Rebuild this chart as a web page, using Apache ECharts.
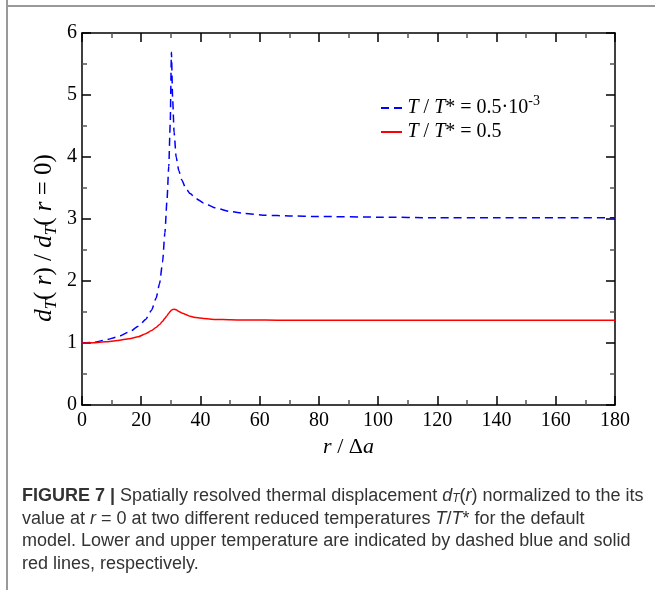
<!DOCTYPE html>
<html>
<head>
<meta charset="utf-8">
<script src="https://cdn.jsdelivr.net/npm/echarts@6/dist/echarts.min.js"></script>
<style>
html, body { margin: 0; padding: 0; background: #fff; }
#chart { width: 655px; height: 590px; }
</style>
</head>
<body>
<div id="chart"></div>
<script>
// r / delta a
var rValues = [0, 4, 8, 12, 16, 19, 21.5, 23.5, 25, 26.2, 27.2, 28, 28.7, 29.3, 29.8, 30.2, 30.6, 31.1, 31.8, 32.7, 33.7, 35, 36.5, 38.5, 41, 45, 50, 55, 62, 70, 80, 100, 120, 140, 160, 180];
// T/T* = 0.5e-3 (dashed blue)
var lowT = [1.00, 1.01, 1.05, 1.10, 1.18, 1.27, 1.38, 1.53, 1.72, 1.96, 2.30, 2.78, 3.30, 3.85, 4.55, 5.69, 4.95, 4.40, 4.00, 3.78, 3.63, 3.50, 3.41, 3.33, 3.26, 3.18, 3.12, 3.09, 3.06, 3.05, 3.04, 3.03, 3.02, 3.02, 3.02, 3.02];
// T/T* = 0.5 (solid red)
var highT = [1.00, 1.005, 1.02, 1.04, 1.07, 1.10, 1.15, 1.20, 1.25, 1.30, 1.35, 1.40, 1.44, 1.48, 1.51, 1.53, 1.54, 1.545, 1.535, 1.51, 1.485, 1.46, 1.43, 1.41, 1.395, 1.38, 1.375, 1.37, 1.37, 1.365, 1.365, 1.365, 1.365, 1.365, 1.365, 1.365];
var xTicks = [0, 20, 40, 60, 80, 100, 120, 140, 160, 180];
var yTicks = [0, 1, 2, 3, 4, 5, 6];

function pairs(xs, ys) {
    var out = [];
    for (var i = 0; i < xs.length; i++) out.push([xs[i], ys[i]]);
    return out;
}

var serif = 'Liberation Serif';
var sans = 'Liberation Sans';
var tickStyle = { show: true, inside: true, length: 9, lineStyle: { color: '#000', width: 1.5 } };
var minorStyle = { show: true, splitNumber: 2, length: 5, lineStyle: { color: '#555', width: 1.5 } };

var myChart = echarts.init(document.getElementById('chart'));
var option = {
    animation: false,
    backgroundColor: '#fff',
    grid: { left: 82, right: 40, top: 33, bottom: 185 },
    legend: {
        left: 376, top: 89, orient: 'vertical', itemGap: 4,
        itemWidth: 22, itemHeight: 2,
        textStyle: {
            fontFamily: serif, fontSize: 20, color: '#000',
            rich: {
                i: { fontFamily: serif, fontSize: 20, fontStyle: 'italic' },
                n: { fontFamily: serif, fontSize: 20 },
                sup: { fontFamily: serif, fontSize: 14, verticalAlign: 'bottom', padding: [0, 0, 14, 0] }
            }
        },
        formatter: function (name) {
            if (name === 'low') return '{i|T} {n|/} {i|T}{n|* = 0.5·10}{sup|-3}';
            return '{i|T} {n|/} {i|T}{n|* = 0.5}';
        },
        data: [
            { name: 'low', icon: 'path://M0,0h8v2h-8z M13,0h8v2h-8z', itemStyle: { color: '#0000ff' } },
            { name: 'high', icon: 'path://M0,0h21v2h-21z', itemStyle: { color: '#ff0000' } }
        ]
    },
    xAxis: [{
        type: 'value', min: 0, max: 180, interval: 20, position: 'bottom',
        axisLine: { show: true, onZero: false, lineStyle: { color: '#000', width: 1.5 } },
        axisTick: tickStyle, minorTick: minorStyle, splitLine: { show: false },
        axisLabel: { fontFamily: serif, fontSize: 20, color: '#000', margin: 6,
            formatter: function (v) { return xTicks.indexOf(v) >= 0 ? v : ''; } },
        name: '{i|r} / Δ{i|a}', nameLocation: 'middle', nameGap: 28,
        nameTextStyle: { fontFamily: serif, fontSize: 22, color: '#000',
            rich: { i: { fontFamily: serif, fontSize: 22, fontStyle: 'italic' } } }
    }, {
        type: 'value', min: 0, max: 180, interval: 20, position: 'top',
        axisLine: { show: true, onZero: false, lineStyle: { color: '#000', width: 1.5 } },
        axisTick: tickStyle, minorTick: minorStyle, splitLine: { show: false },
        axisLabel: { show: false }
    }],
    yAxis: [{
        type: 'value', min: 0, max: 6, interval: 1, position: 'left',
        axisLine: { show: true, onZero: false, lineStyle: { color: '#000', width: 1.5 } },
        axisTick: tickStyle, minorTick: minorStyle, splitLine: { show: false },
        axisLabel: { fontFamily: serif, fontSize: 20, color: '#000', margin: 5,
            formatter: function (v) { return yTicks.indexOf(v) >= 0 ? v : ''; } }
    }, {
        type: 'value', min: 0, max: 6, interval: 1, position: 'right',
        axisLine: { show: true, onZero: false, lineStyle: { color: '#000', width: 1.5 } },
        axisTick: tickStyle, minorTick: minorStyle, splitLine: { show: false },
        axisLabel: { show: false }
    }],
    series: [{
        name: 'low', type: 'line', showSymbol: false, symbol: 'none',
        smooth: 0.2, smoothMonotone: 'x',
        lineStyle: { color: '#0000ff', width: 1.5, type: [8, 5] },
        itemStyle: { color: '#0000ff' },
        data: pairs(rValues, lowT)
    }, {
        name: 'high', type: 'line', showSymbol: false, symbol: 'none',
        smooth: 0.2, smoothMonotone: 'x',
        lineStyle: { color: '#ff0000', width: 1.5 },
        itemStyle: { color: '#ff0000' },
        data: pairs(rValues, highT)
    }],
    graphic: [
        { type: 'line', shape: { x1: 7, y1: 0, x2: 7, y2: 590 }, style: { stroke: '#999', lineWidth: 2 } },
        { type: 'line', shape: { x1: 7, y1: 6, x2: 655, y2: 6 }, style: { stroke: '#999', lineWidth: 2 } },
        {
            // y axis title, rotated
            type: 'text', x: 44, y: 238, rotation: Math.PI / 2,
            style: {
                text: '{i|d}{sub|T}{n|( }{i|r}{n|) / }{i|d}{sub|T}{n|( }{i|r}{n| = 0)}',
                align: 'center', verticalAlign: 'middle',
                rich: {
                    i: { fontFamily: serif, fontSize: 25, fontStyle: 'italic', fill: '#000' },
                    n: { fontFamily: serif, fontSize: 25, fill: '#000' },
                    sub: { fontFamily: serif, fontSize: 17, fontStyle: 'italic', fill: '#000', verticalAlign: 'top', padding: [15, 0, 0, 0] }
                }
            }
        },
        {
            type: 'text', left: 22, top: 485,
            style: {
                text: '{b|FIGURE 7 |} Spatially resolved thermal displacement {i|d}{sub|T}({i|r}) normalized to the its\n' +
                      'value at {i|r} = 0 at two different reduced temperatures {i|T}/{i|T}* for the default\n' +
                      'model. Lower and upper temperature are indicated by dashed blue and solid\n' +
                      'red lines, respectively.',
                fontFamily: sans, fontSize: 18,
                fill: '#333', lineHeight: 22.5,
                rich: {
                    b: { fontWeight: 'bold', fontSize: 18, fontFamily: sans, fill: '#333' },
                    i: { fontStyle: 'italic', fontSize: 18, fontFamily: sans, fill: '#333' },
                    sub: { fontStyle: 'italic', fontSize: 12, fontFamily: sans, fill: '#333', verticalAlign: 'top', padding: [8, 0, 0, 0] }
                }
            }
        }
    ]
};
myChart.setOption(option);
window.onresize = function () { myChart.resize(); };
</script>
</body>
</html>
